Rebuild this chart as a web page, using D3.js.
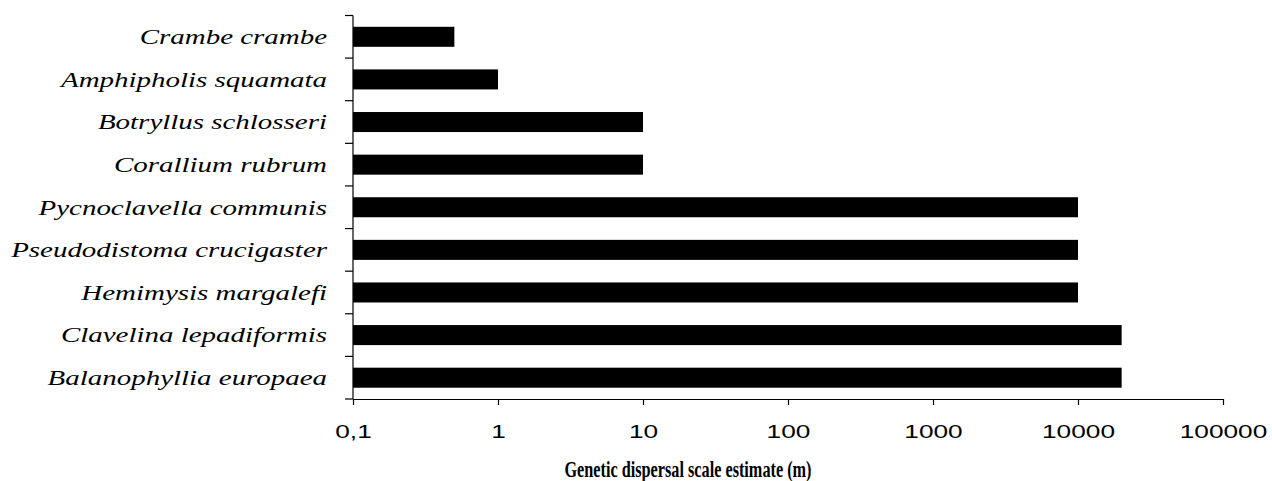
<!DOCTYPE html>
<html>
<head>
<meta charset="utf-8">
<script src="https://cdn.jsdelivr.net/npm/d3@7"></script>
<style>
  html, body { margin: 0; padding: 0; background: #fff; }
  svg { display: block; }
</style>
</head>
<body>
<svg id="chart" width="1272" height="481"></svg>
<script>
// Species, top to bottom
const species = [
  "Crambe crambe",
  "Amphipholis squamata",
  "Botryllus schlosseri",
  "Corallium rubrum",
  "Pycnoclavella communis",
  "Pseudodistoma crucigaster",
  "Hemimysis margalefi",
  "Clavelina lepadiformis",
  "Balanophyllia europaea"
];
// Genetic dispersal scale estimate (m)
const dispersal = [0.5, 1, 10, 10, 10000, 10000, 10000, 20000, 20000];
const tickValues = [0.1, 1, 10, 100, 1000, 10000, 100000];
const tickLabels = ["0,1", "1", "10", "100", "1000", "10000", "100000"];
const xTitle = "Genetic dispersal scale estimate (m)";

const svg = d3.select("#chart");
const plotLeft = 353, plotRight = 1223, plotTop = 15.5, plotBottom = 399;

const x = d3.scaleLog().domain([0.1, 100000]).range([plotLeft, plotRight]);
const y = d3.scaleBand().domain(species).range([plotTop, plotBottom]).paddingInner(0.53).paddingOuter(0.265);
const yb = d3.scaleBand().domain(species).range([plotTop, plotBottom]);

// Bars
svg.append("g")
  .selectAll("rect")
  .data(species.map((s, i) => ({ s, v: dispersal[i] })))
  .join("rect")
  .attr("x", x(0.1))
  .attr("y", d => y(d.s))
  .attr("width", d => x(d.v) - x(0.1))
  .attr("height", y.bandwidth())
  .attr("fill", "#000");

// X axis
const xAxis = d3.axisBottom(x)
  .tickValues(tickValues)
  .tickFormat((d, i) => tickLabels[i])
  .tickSize(6)
  .tickSizeOuter(0);
const gx = svg.append("g").attr("transform", `translate(0,${plotBottom})`).call(xAxis);
gx.select(".domain").attr("stroke", "#000").attr("stroke-width", 1.2);
gx.selectAll(".tick line").attr("stroke", "#000").attr("stroke-width", 1.2);
gx.selectAll(".tick text")
  .attr("font-family", "'Liberation Sans', Arial, sans-serif")
  .attr("font-size", 18.5)
  .attr("fill", "#000")
  .attr("y", 0)
  .attr("dy", 0)
  .attr("text-anchor", "middle")
  .attr("transform", "translate(0,39) scale(1.42,1)");

// Y axis: vertical line with ticks at band boundaries, pointing left
const gy = svg.append("g");
gy.append("line")
  .attr("x1", plotLeft).attr("x2", plotLeft)
  .attr("y1", plotTop).attr("y2", plotBottom)
  .attr("stroke", "#000").attr("stroke-width", 1.2);
const edges = species.map(s => yb(s)).concat([plotBottom]);
gy.selectAll("line.edge")
  .data(edges)
  .join("line")
  .attr("class", "edge")
  .attr("x1", plotLeft - 8).attr("x2", plotLeft)
  .attr("y1", d => d).attr("y2", d => d)
  .attr("stroke", "#000").attr("stroke-width", 1.2);

// Category labels, italic serif, stretched so the longest fits its column
const labels = svg.append("g").selectAll("text")
  .data(species)
  .join("text")
  .attr("font-family", "'Liberation Serif', 'Times New Roman', serif")
  .attr("font-style", "italic")
  .attr("font-size", 21.5)
  .attr("fill", "#000")
  .attr("text-anchor", "end")
  .text(d => d);
let widest = 0;
labels.each(function () { widest = Math.max(widest, this.getComputedTextLength()); });
const sx = 316 / widest;
labels.attr("transform", d => `translate(327,${yb(d) + yb.bandwidth() / 2 + 7.3}) scale(${sx},1)`);

// Axis title
svg.append("text")
  .attr("x", 688)
  .attr("y", 477)
  .attr("text-anchor", "middle")
  .attr("font-family", "'Liberation Serif', 'Times New Roman', serif")
  .attr("font-weight", "bold")
  .attr("font-size", 24)
  .attr("textLength", 247)
  .attr("lengthAdjust", "spacingAndGlyphs")
  .attr("fill", "#000")
  .text(xTitle);
</script>
</body>
</html>
